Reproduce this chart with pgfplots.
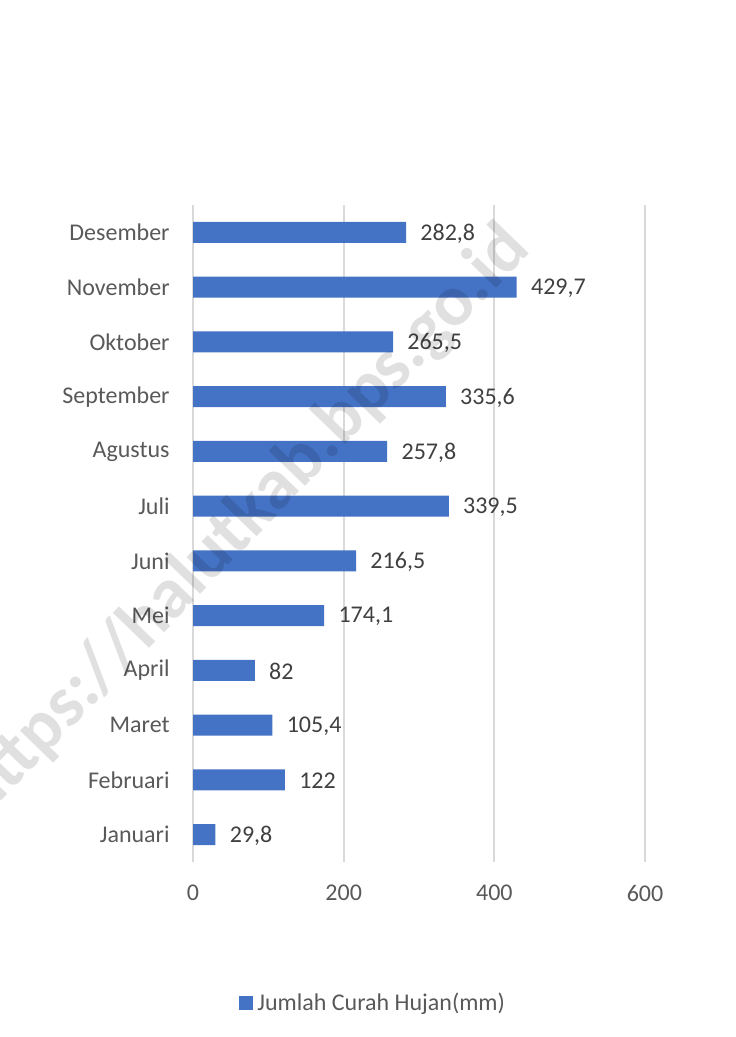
\documentclass[border=0pt]{standalone}
\usepackage{pgfplots}
\pgfplotsset{compat=1.18}
\usepackage{fontspec}
\setmainfont{Carlito}
\definecolor{barblue}{HTML}{4472C4}
\definecolor{ticktext}{HTML}{595959}
\definecolor{labeltext}{HTML}{404040}
\definecolor{gridgray}{HTML}{D9D9D9}
\begin{document}
\begin{tikzpicture}[x=1pt,y=1pt]
\useasboundingbox (0,0) rectangle (367.5,518.5);
\clip (0,0) rectangle (367.5,518.5);
\begin{axis}[
  at={(96.5pt,87.5pt)}, anchor=south west,
  scale only axis, width=226pt, height=328.5pt,
  xmin=0, xmax=600, ymin=-0.5, ymax=11.5,
  xtick={0,200,400,600},
  ytick={0,...,11},
  yticklabels={Januari,Februari,Maret,April,Mei,Juni,Juli,Agustus,September,Oktober,November,Desember},
  axis line style={draw=none},
  major tick length=0pt,
  tick style={draw=none},
  xmajorgrids, grid style={color=gridgray, line width=1pt},
  /pgf/number format/assume math mode=true,
  /pgf/number format/use comma,
  /pgf/number format/fixed,
  /pgf/number format/precision=1,
  tick label style={font=\fontsize{12}{14}\selectfont, text=ticktext, inner sep=0pt},
  y tick label style={anchor=east, xshift=-11.5pt},
  x tick label style={anchor=north, yshift=-11.5pt},
  legend style={draw=none, fill=none, at={(0.1018,-0.2146)}, anchor=west, inner sep=0pt, font=\fontsize{12}{14}\selectfont, text=ticktext, legend cell align=left},
  legend image code/.code={\fill[barblue] (0pt,-3.5pt) rectangle (7pt,3.5pt);},
]
\addplot[xbar, fill=barblue, draw=none, bar width=10.5pt,
  point meta=x, nodes near coords,
  nodes near coords style={anchor=west, inner sep=0pt, xshift=7pt, yshift=-0.5pt, font=\fontsize{12}{14}\selectfont, text=labeltext}]
coordinates {
(29.8,0) (122,1) (105.4,2) (82,3) (174.1,4) (216.5,5)
(339.5,6) (257.8,7) (335.6,8) (265.5,9) (429.7,10) (282.8,11)
};
\addlegendentry{Jumlah Curah Hujan(mm)}
\end{axis}
\node[rotate=46, text=black, text opacity=0.12, font=\fontsize{36}{40}\selectfont\bfseries, inner sep=0pt] at (122,257.5) {https://halutkab.bps.go.id};
\end{tikzpicture}
\end{document}
